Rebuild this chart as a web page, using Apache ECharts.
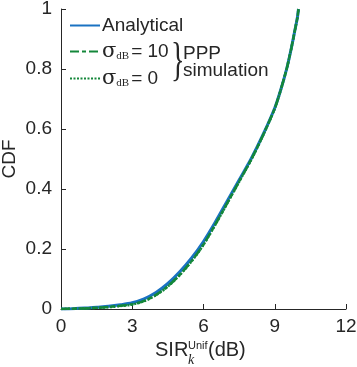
<!DOCTYPE html>
<html>
<head>
<meta charset="utf-8">
<script src="https://cdn.jsdelivr.net/npm/echarts@6/dist/echarts.min.js"></script>
<style>
  html, body { margin: 0; padding: 0; background: #fff; }
  #chart { width: 357px; height: 367px; }
</style>
</head>
<body>
<div id="chart"></div>
<script>
// SIR in dB (x axis)
var sirDb = [0, 0.5, 1, 1.5, 2, 2.5, 3, 3.5, 4, 4.5, 5, 5.5, 6, 6.5, 7, 7.5, 8, 8.5, 9, 9.25, 9.5, 9.7, 9.85, 9.95, 10];
// analytical CDF
var cdfAnalytical = [0, 0.001, 0.003, 0.006, 0.009, 0.014, 0.021, 0.034, 0.055, 0.085, 0.124, 0.17, 0.225, 0.29, 0.36, 0.43, 0.5, 0.58, 0.67, 0.73, 0.8, 0.87, 0.93, 0.97, 1.0];
// PPP simulation, sigma_dB = 10
var cdfSigma10 = [0, 0.001, 0.002, 0.004, 0.007, 0.011, 0.016, 0.027, 0.047, 0.076, 0.114, 0.16, 0.215, 0.282, 0.353, 0.425, 0.497, 0.578, 0.669, 0.73, 0.8, 0.87, 0.93, 0.97, 1.0];
// PPP simulation, sigma_dB = 0
var cdfSigma0 = [0, 0.001, 0.002, 0.004, 0.006, 0.01, 0.015, 0.026, 0.046, 0.075, 0.113, 0.159, 0.214, 0.281, 0.352, 0.424, 0.496, 0.577, 0.668, 0.729, 0.8, 0.87, 0.93, 0.97, 1.0];
var xTicks = [0, 3, 6, 9, 12];

var blue = '#1a72c2';
var green = '#14873a';
var ink = '#262626';
var font = 'Liberation Sans, Arial, sans-serif';

function pairs(ys) {
    return sirDb.map(function (x, i) { return [x, ys[i]]; });
}

var chart = echarts.init(document.getElementById('chart'));
chart.setOption({
    animation: false,
    grid: { left: 61, right: 11, top: 9, bottom: 58, outerBoundsMode: 'none', containLabel: false },
    xAxis: {
        type: 'value',
        min: xTicks[0],
        max: xTicks[xTicks.length - 1],
        interval: 3,
        axisLine: { lineStyle: { color: ink, width: 1 } },
        axisTick: { inside: true, length: 5, lineStyle: { color: ink } },
        axisLabel: { color: ink, fontSize: 19, fontFamily: font, margin: 8 },
        splitLine: { show: false }
    },
    yAxis: {
        type: 'value',
        min: 0,
        max: 1,
        interval: 0.2,
        name: 'CDF',
        nameLocation: 'middle',
        nameRotate: 90,
        nameGap: 42,
        nameMoveOverlap: false,
        nameTextStyle: { color: ink, fontSize: 19, fontFamily: font },
        axisLine: { show: true, lineStyle: { color: ink, width: 1 } },
        axisTick: { show: true, inside: true, length: 5, lineStyle: { color: ink } },
        axisLabel: { color: ink, fontSize: 19, fontFamily: font, margin: 9 },
        splitLine: { show: false }
    },
    legend: {
        orient: 'vertical',
        left: 64,
        top: 11,
        itemWidth: 30,
        itemGap: 6,
        itemStyle: { opacity: 0 },
        textStyle: {
            color: ink,
            fontSize: 19,
            fontFamily: font,
            padding: [0, 0, 0, -3],
            rich: {
                g: { fontSize: 21, fontFamily: 'DejaVu Serif, serif', color: ink },
                d: { fontSize: 11, fontFamily: 'Liberation Serif, serif', color: ink, padding: [9, 2, 0, 0] },
                t: { fontSize: 19, fontFamily: font, color: ink }
            }
        },
        formatter: function (name) {
            if (name === 'Analytical') return name;
            if (name === 's10') return '{g|σ}{d|dB}{t|= 10}';
            return '{g|σ}{d|dB}{t|= 0}';
        },
        data: ['Analytical', 's10', 's0']
    },
    graphic: [
        { type: 'text', left: 171, top: 39, scaleX: 0.6, style: { text: '}', fontSize: 47, fontFamily: 'Liberation Serif, serif', fill: ink } },
        { type: 'text', left: 183, top: 44, style: { text: 'PPP\nsimulation', fontSize: 19, lineHeight: 17, fontFamily: font, fill: ink } },
        { type: 'text', left: 155, top: 340, style: { text: 'SIR', fontSize: 20, fontFamily: font, fill: ink } },
        { type: 'text', left: 188, top: 340, style: { text: 'Unif', fontSize: 11, fontFamily: font, fill: ink } },
        { type: 'text', left: 188, top: 353, style: { text: 'k', fontSize: 14, fontStyle: 'italic', fontFamily: 'Liberation Serif, serif', fill: ink } },
        { type: 'text', left: 208, top: 340, style: { text: '(dB)', fontSize: 20, fontFamily: font, fill: ink } }
    ],
    series: [
        {
            name: 'Analytical',
            type: 'line',
            data: pairs(cdfAnalytical),
            smooth: 0.3,
            symbol: 'none',
            lineStyle: { color: blue, width: 3 },
            itemStyle: { color: blue },
            z: 2
        },
        {
            name: 's10',
            type: 'line',
            data: pairs(cdfSigma10),
            smooth: 0.3,
            symbol: 'none',
            lineStyle: { color: green, width: 2.5, type: [9, 3, 4, 3] },
            itemStyle: { color: green },
            z: 3
        },
        {
            name: 's0',
            type: 'line',
            data: pairs(cdfSigma0),
            smooth: 0.3,
            symbol: 'none',
            lineStyle: { color: green, width: 2.5, type: [2, 1.5] },
            itemStyle: { color: green },
            z: 4
        }
    ]
});
</script>
</body>
</html>
